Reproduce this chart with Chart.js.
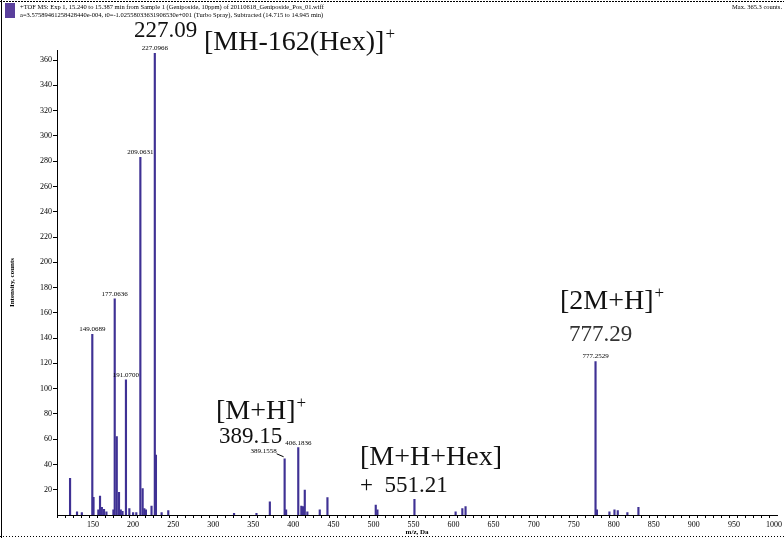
<!DOCTYPE html>
<html>
<head>
<meta charset="utf-8">
<script src="https://cdn.jsdelivr.net/npm/chart.js@4.4.1/dist/chart.umd.min.js"></script>
<style>
  html, body { margin: 0; padding: 0; background: #fff; }
  #wrap { position: relative; width: 784px; height: 538px; }
</style>
</head>
<body>
<div id="wrap"><canvas id="spectrum" width="784" height="538"></canvas></div>
<script>
// peak list (m/z, counts)
const mzValues = [
  121.3, 130.0, 136.0, 149.07, 150.6, 156.6, 158.7, 161.0, 163.7, 166.7,
  175.4, 177.06, 179.6, 182.4, 184.6, 186.8, 191.07, 195.3, 200.0, 204.0,
  209.06, 211.9, 214.0, 216.0, 223.0, 227.10, 228.5, 235.6, 243.9,
  326.0, 354.0, 370.7, 389.16, 391.0, 406.18, 410.0, 412.0, 414.3, 417.5,
  433.0, 442.6, 502.9, 505.0, 551.21, 602.6, 611.0, 615.0,
  777.25, 779.0, 794.6, 800.9, 805.0, 817.0, 830.8
];
const intensities = [
  29, 2.6, 2, 143, 14, 4, 15, 6, 4.5, 2.6,
  4, 171, 62, 18, 4, 3, 107, 5, 2, 2,
  283, 21, 5, 4, 7, 365.3, 47.5, 2, 3.5,
  1.3, 1.3, 10.5, 44.5, 4, 53.3, 7, 6.6, 19.8, 2.6,
  4, 13.7, 7.9, 4, 12.4, 2.6, 5, 6.6,
  121.5, 4, 2.6, 4, 3.5, 2, 6
];
const xTickValues = [150, 200, 250, 300, 350, 400, 450, 500, 550, 600, 650, 700, 750, 800, 850, 900, 950, 1000];
const yTickValues = [20, 40, 60, 80, 100, 120, 140, 160, 180, 200, 220, 240, 260, 280, 300, 320, 340, 360];

// small peak captions (centred above the peak)
const labeledPeaks = [149.07, 177.06, 191.07, 209.06, 227.10, 406.18, 777.25];
const labeledTexts = ['149.0689', '177.0636', '191.0700', '209.0631', '227.0966', '406.1836', '777.2529'];

const headerLine1 = '+TOF MS: Exp 1, 15.240 to 15.387 min from Sample 1 (Geniposide, 10ppm) of 20110618_Geniposide_Pos_01.wiff';
const headerLine2 = 'a=3.57589461258428440e-004, t0=-1.02558033631906530e+001 (Turbo Spray), Subtracted (14.715 to 14.945 min)';
const headerMax = 'Max. 365.3 counts.';

const SERIF = '"Liberation Serif", "DejaVu Serif", serif';
const INK = '#3f3194';

function ionLabel(ctx, text, x, y, size, sup) {
  ctx.font = `${size}px ${SERIF}`;
  ctx.fillText(text, x, y);
  if (sup) {
    const w = ctx.measureText(text).width;
    ctx.font = `${Math.round(size * 0.62)}px ${SERIF}`;
    ctx.fillText('+', x + w + 1, y - size * 0.4);
  }
}

const textPlugin = {
  id: 'spectrumText',
  afterDraw(chart) {
    const { ctx, scales: { x, y } } = chart;
    ctx.save();

    // frame
    ctx.strokeStyle = '#000';
    ctx.lineWidth = 1;
    ctx.setLineDash([2, 1]);
    ctx.beginPath(); ctx.moveTo(0, 1.5); ctx.lineTo(784, 1.5); ctx.stroke();
    ctx.setLineDash([1, 2]);
    ctx.beginPath(); ctx.moveTo(0, 536.5); ctx.lineTo(784, 536.5); ctx.stroke();
    ctx.setLineDash([]);
    ctx.beginPath(); ctx.moveTo(1.5, 0); ctx.lineTo(1.5, 538); ctx.stroke();

    // header
    ctx.fillStyle = '#5a3f9c';
    ctx.fillRect(5, 3, 10, 15);
    ctx.fillStyle = '#000';
    ctx.font = `6.5px ${SERIF}`;
    ctx.textBaseline = 'alphabetic';
    ctx.textAlign = 'left';
    ctx.fillText(headerLine1, 20, 9);
    ctx.fillText(headerLine2, 20, 17);
    ctx.textAlign = 'right';
    ctx.fillText(headerMax, 782, 9);

    // small peak captions
    ctx.textAlign = 'center';
    ctx.font = `7px ${SERIF}`;
    labeledPeaks.forEach((mz, i) => {
      const k = mzValues.indexOf(mz);
      if (k < 0) return;
      ctx.fillText(labeledTexts[i], x.getPixelForValue(mz), y.getPixelForValue(intensities[k]) - 3);
    });
    // 389 caption with leader
    const k389 = mzValues.indexOf(389.16);
    const px = x.getPixelForValue(389.16), py = y.getPixelForValue(intensities[k389]);
    ctx.textAlign = 'right';
    ctx.fillText('389.1558', px - 8, py - 6);
    ctx.beginPath(); ctx.moveTo(px - 8, py - 5); ctx.lineTo(px - 1, py - 2); ctx.stroke();

    // ion annotations
    ctx.textAlign = 'left';
    ctx.fillStyle = '#111';
    ionLabel(ctx, '227.09', 134, 37, 23, false);
    ionLabel(ctx, '[MH-162(Hex)]', 204, 50, 28, true);
    ionLabel(ctx, '[2M+H]', 560, 309, 28, true);
    ctx.fillStyle = '#333';
    ionLabel(ctx, '777.29', 569, 341, 23, false);
    ctx.fillStyle = '#111';
    ionLabel(ctx, '[M+H]', 216, 419, 28, true);
    ionLabel(ctx, '389.15', 219, 443, 23, false);
    ionLabel(ctx, '[M+H+Hex]', 360, 465, 28, false);
    ionLabel(ctx, '+  551.21', 360, 492, 23, false);

    ctx.restore();
  }
};

const minorTicks = [];
for (let v = 110; v <= 1000; v += 10) minorTicks.push(v);

new Chart(document.getElementById('spectrum').getContext('2d'), {
  type: 'bar',
  data: {
    datasets: [{
      label: 'TOF MS',
      data: mzValues.map((mz, i) => ({ x: mz, y: intensities[i] })),
      backgroundColor: INK,
      borderWidth: 0,
      barThickness: 1.5,
      grouped: false
    }]
  },
  options: {
    responsive: false,
    animation: false,
    devicePixelRatio: 1,
    layout: { padding: { left: 2, right: 6, top: 50, bottom: 0 } },
    plugins: { legend: { display: false }, tooltip: { enabled: false } },
    scales: {
      x: {
        type: 'linear',
        min: 105,
        max: 1004,
        offset: false,
        border: { color: '#000', width: 1 },
        grid: { drawOnChartArea: false, tickLength: 3, tickColor: '#000' },
        afterBuildTicks: s => { s.ticks = minorTicks.map(v => ({ value: v })); },
        afterFit: s => { s.height = 23; },
        ticks: {
          autoSkip: false, maxRotation: 0, padding: 2, color: '#000',
          font: { family: SERIF, size: 8 },
          callback: v => (xTickValues.includes(v) ? String(v) : '')
        },
        title: { display: true, text: 'm/z, Da', color: '#000', font: { family: SERIF, size: 7, weight: 'bold' }, padding: { top: 0, bottom: 2 } }
      },
      y: {
        min: 0,
        max: 368,
        border: { color: '#000', width: 1 },
        grid: { drawOnChartArea: false, tickLength: 4, tickColor: '#000' },
        afterBuildTicks: s => { s.ticks = yTickValues.map(v => ({ value: v })); },
        afterFit: s => { s.width = 55; },
        ticks: { autoSkip: false, padding: 1, color: '#000', font: { family: SERIF, size: 8 } },
        title: { display: true, text: 'Intensity, counts', color: '#000', font: { family: SERIF, size: 7, weight: 'bold' }, padding: { top: 6, bottom: 0 } }
      }
    }
  },
  plugins: [textPlugin]
});
</script>
</body>
</html>
